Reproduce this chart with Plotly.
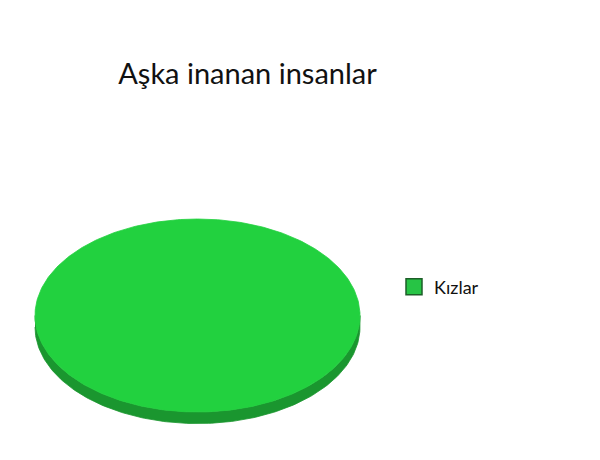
import numpy as np
import plotly.graph_objects as go

# ---- data ----
title_text = "Aşka inanan insanlar"
categories = ["Kızlar"]
values = [100]

# ---- style ----
top_colors = ["#22d13f"]
side_colors = ["#1a962f"]
legend_fill = ["#27c445"]
legend_edge = ["#1d5e28"]
depth = 0.12  # thickness of the 3D pie side, in axis units

W, H = 600, 460
OFF = 8  # page body margin offset
fig = go.Figure()

total = float(sum(values))
start = 0.0
for i, (cat, v) in enumerate(zip(categories, values)):
    frac = v / total
    a0 = np.pi / 2 - start * 2 * np.pi
    a1 = np.pi / 2 - (start + frac) * 2 * np.pi
    start += frac
    t = np.linspace(a0, a1, 361)
    full = abs(frac - 1.0) < 1e-9
    # side band (lower half of the rim only)
    tb = np.linspace(np.pi, 2 * np.pi, 181)
    sx = np.concatenate([np.cos(tb), np.cos(tb[::-1])])
    sy = np.concatenate([np.sin(tb) - depth, np.sin(tb[::-1])])
    fig.add_trace(go.Scatter(x=sx, y=sy, mode="lines", fill="toself",
                             fillcolor=side_colors[i], line=dict(width=0.8, color=side_colors[i]),
                             hoverinfo="skip", showlegend=False))
    if full:
        px_, py_ = np.cos(t), np.sin(t)
    else:
        px_ = np.concatenate([[0], np.cos(t), [0]])
        py_ = np.concatenate([[0], np.sin(t), [0]])
    fig.add_trace(go.Scatter(x=px_, y=py_, mode="lines", fill="toself",
                             fillcolor=top_colors[i], line=dict(width=0.8, color=top_colors[i]),
                             name=cat, showlegend=False, hoverinfo="name"))
    # legend entry
    fig.add_trace(go.Scatter(x=[None], y=[None], mode="markers", name=cat,
                             marker=dict(symbol="square", size=16, color=legend_fill[i],
                                         line=dict(width=1.5, color=legend_edge[i]))))

# axes mapping: unit circle -> ellipse centered at pixel (cx, cy), radii rx x ry
cx, cy, rx, ry = 197.5 - OFF, 315.5 - OFF, 162.5, 96.5
xr = [-cx / rx, (W - cx) / rx]
yr = [-(H - cy) / ry, cy / ry]

fig.update_layout(
    width=W, height=H,
    margin=dict(l=0, r=0, t=0, b=0),
    paper_bgcolor="white", plot_bgcolor="white",
    xaxis=dict(range=xr, visible=False, fixedrange=True),
    yaxis=dict(range=yr, visible=False, fixedrange=True),
    title=dict(text=title_text, x=(247.5 - OFF) / W, xanchor="center", xref="paper",
               y=1 - 66 / H, yanchor="middle", yref="container",
               font=dict(family="Lato", size=29, color="#111111")),
    legend=dict(x=(414 - OFF - 20) / W, y=1 - (287 - OFF) / H, xanchor="left", yanchor="middle",
                font=dict(family="Lato", size=18, color="#111111"),
                itemsizing="trace", bgcolor="rgba(0,0,0,0)"),
    showlegend=True,
)

fig.write_html("out.html")
